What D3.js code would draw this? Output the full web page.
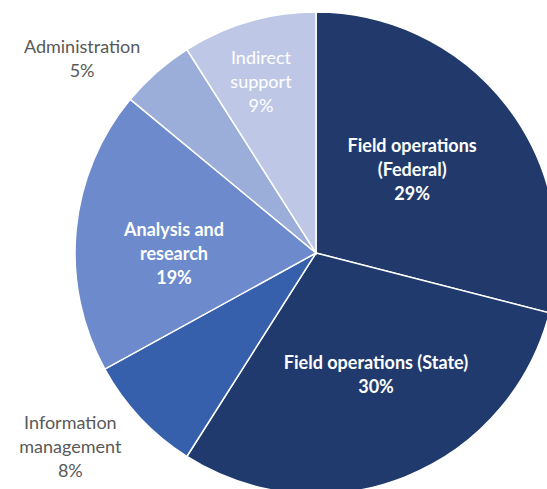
<!DOCTYPE html>
<html>
<head>
<meta charset="utf-8">
<script src="https://cdn.jsdelivr.net/npm/d3@7"></script>
<style>
  body { margin: 0; background: #fff; }
  text { font-family: Lato, 'Open Sans', sans-serif; font-size: 18px; }
</style>
</head>
<body>
<div id="chart"></div>
<script>
// slices, clockwise from 12 o'clock
const categories = ['Field operations (Federal)', 'Field operations (State)', 'Information management', 'Analysis and research', 'Administration', 'Indirect support']
const shares = [29, 30, 8, 19, 5, 9]
const labelLines = [
  ['Field operations', '(Federal)'],
  ['Field operations (State)'],
  ['Information', 'management'],
  ['Analysis and', 'research'],
  ['Administration'],
  ['Indirect', 'support']
]
const colors = ['#213a6b', '#213a6d', '#365fac', '#6d8bcc', '#9badd9', '#bec8e6']

// label anchor: [angle in degrees clockwise from top, distance from center], outside or not
const labelLayout = [
  { angle: 49.2, r: 127, inside: true },
  { angle: 153.8, r: 136, inside: true },
  { angle: 231.7, r: 313, inside: false },
  { angle: 269.6, r: 142, inside: true },
  { angle: 309.7, r: 304, inside: false },
  { angle: 342.2, r: 180, inside: true }
]

const width = 547
const height = 489
const cx = 316
const cy = 253
const radius = 241

const svg = d3
  .select('#chart')
  .append('svg')
  .attr('width', width)
  .attr('height', height)

const g = svg.append('g').attr('transform', 'translate(' + cx + ',' + cy + ')')

const data = categories.map((c, i) => ({ name: c, value: shares[i], lines: labelLines[i], i: i }))

const pie = d3.pie().sort(null).value(d => d.value)
const arc = d3.arc().innerRadius(0).outerRadius(radius)

g.selectAll('path')
  .data(pie(data))
  .enter()
  .append('path')
  .attr('d', arc)
  .attr('fill', d => colors[d.data.i])
  .attr('stroke', '#fff')
  .attr('stroke-width', 1.5)

const lineH = 24

const labels = g
  .selectAll('g.label')
  .data(data)
  .enter()
  .append('g')
  .attr('class', 'label')
  .attr('transform', function(d) {
    const l = labelLayout[d.i]
    const a = (l.angle * Math.PI) / 180
    return 'translate(' + l.r * Math.sin(a) + ',' + -l.r * Math.cos(a) + ')'
  })

labels.each(function(d) {
  const l = labelLayout[d.i]
  const lines = d.lines.concat([d.value + '%'])
  const n = lines.length
  d3.select(this)
    .selectAll('text')
    .data(lines)
    .enter()
    .append('text')
    .attr('text-anchor', 'middle')
    .attr('y', (t, k) => (k - (n - 1) / 2) * lineH + 6)
    .attr('fill', l.inside ? '#fff' : '#595959')
    .attr('font-weight', l.inside && d.i !== 5 ? 700 : 400)
    .text(t => t)
})
</script>
</body>
</html>
